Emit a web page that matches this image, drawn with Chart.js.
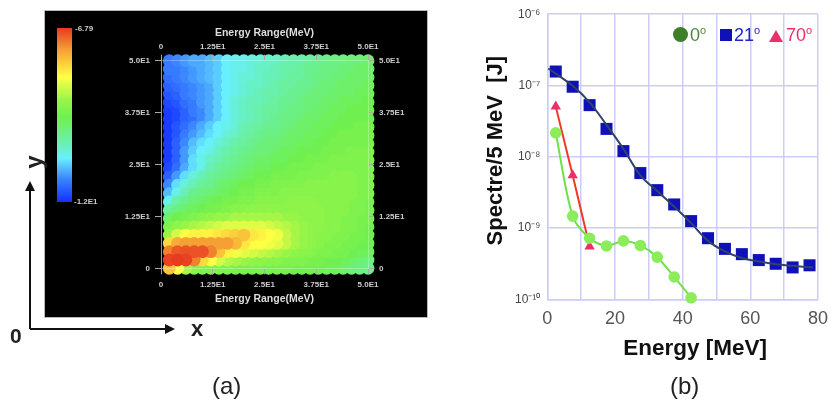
<!DOCTYPE html>
<html>
<head>
<meta charset="utf-8">
<title>Energy spectra</title>
<script src="https://cdn.jsdelivr.net/npm/chart.js@4"></script>
<style>
  html, body { margin: 0; padding: 0; background: #fff; }
  body { width: 837px; height: 401px; overflow: hidden; font-family: "Liberation Sans", sans-serif; }
  #page { position: absolute; left: 0; top: 0; width: 837px; height: 401px; overflow: hidden; filter: blur(0.4px); }
  #panelA { position: absolute; left: 45px; top: 11px; width: 382px; height: 306px; background: #000; outline: 1px solid #bbb; }
  #panelA canvas { filter: blur(0.5px); }
  #panelB { position: absolute; left: 480px; top: 0; width: 357px; height: 362px; }
  .txt { position: absolute; white-space: nowrap; line-height: 1; }
  .cb { color: #ccc; font-size: 8px; font-weight: bold; }
  .big { color: #222; font-size: 24px; }
  .leg { font-size: 18px; }
  .leg sup { font-size: 11px; vertical-align: 7px; line-height: 0; }
  #colorbar { position: absolute; left: 57px; top: 28px; width: 15px; height: 174px; }
  #mark0 { position: absolute; left: 673px; top: 27px; width: 15px; height: 15px; border-radius: 50%; background: #3f7f2c; }
  #mark21 { position: absolute; left: 720px; top: 29px; width: 12px; height: 12px; background: #1010b8; }
  #mark70 { position: absolute; left: 769px; top: 30px; width: 0; height: 0; border-left: 7px solid transparent; border-right: 7px solid transparent; border-bottom: 12px solid #ea2f6c; }
</style>
</head>
<body>
<div id="page">
  <div id="panelA"><canvas id="heatChart"></canvas></div>
  <div id="colorbar"></div>
  <div class="txt cb" style="left:75px;top:25px">-6.79</div>
  <div class="txt cb" style="left:74px;top:198px">-1.2E1</div>

  <svg style="position:absolute;left:0;top:0" width="837" height="401">
    <path d="M30 329V187M30 329H168" stroke="#111" stroke-width="2" fill="none"/>
    <path d="M30 181L25 191H35ZM175 329L165 324V334Z" fill="#111"/>
  </svg>
  <div class="txt big" style="left:10px;top:325px;font-size:21px;font-weight:bold">0</div>
  <div class="txt big" style="left:191px;top:318px;font-size:22px;font-weight:bold">x</div>
  <div class="txt big" style="left:27px;top:150px;font-weight:bold;transform:rotate(-90deg)">y</div>
  <div class="txt big" style="left:212px;top:374px">(a)</div>

  <div id="panelB"><canvas id="spectraChart"></canvas></div>
  <div id="mark0"></div>
  <div class="txt leg" style="left:690px;top:26px;color:#4c8a3a">0<sup>o</sup></div>
  <div id="mark21"></div>
  <div class="txt leg" style="left:734px;top:26px;color:#2222cc">21<sup>o</sup></div>
  <div id="mark70"></div>
  <div class="txt leg" style="left:786px;top:26px;color:#ea2f6c">70<sup>o</sup></div>
  <div class="txt big" style="left:670px;top:374px">(b)</div>
</div>

<script>
// panel (a): values, log10 scale
const binX = [2, 4, 6, 8, 10, 12, 14, 16, 18, 20, 22, 24, 26, 28, 30, 32, 34, 36, 38, 40, 42, 44, 46, 48, 50];
const binY = [50, 48, 46, 44, 42, 40, 38, 36, 34, 32, 30, 28, 26, 24, 22, 20, 18, 16, 14, 12, 10, 8, 6, 4, 2, 0];
const heatRows = [
  [-11.4,-11.3,-11.2,-11.1,-11.1,-11.0,-10.9,-10.7,-10.6,-10.6,-10.5,-10.5,-10.4,-10.4,-10.3,-10.2,-10.2,-10.1,-10.0,-10.0,-9.9,-9.9,-9.8,-9.8,-9.7],
  [-11.4,-11.4,-11.3,-11.2,-11.1,-11.0,-10.9,-10.7,-10.6,-10.6,-10.5,-10.4,-10.4,-10.3,-10.2,-10.2,-10.1,-10.0,-10.0,-9.9,-9.9,-9.8,-9.8,-9.7,-9.7],
  [-11.5,-11.4,-11.3,-11.2,-11.1,-11.0,-10.9,-10.7,-10.6,-10.5,-10.5,-10.4,-10.3,-10.3,-10.2,-10.1,-10.1,-10.0,-9.9,-9.9,-9.8,-9.8,-9.7,-9.7,-9.7],
  [-11.6,-11.5,-11.4,-11.3,-11.2,-11.1,-10.9,-10.7,-10.6,-10.5,-10.4,-10.4,-10.3,-10.2,-10.1,-10.1,-10.0,-10.0,-9.9,-9.8,-9.8,-9.7,-9.7,-9.7,-9.6],
  [-11.7,-11.6,-11.4,-11.3,-11.2,-11.1,-10.9,-10.7,-10.6,-10.5,-10.4,-10.3,-10.2,-10.2,-10.1,-10.0,-10.0,-9.9,-9.8,-9.8,-9.7,-9.7,-9.7,-9.6,-9.6],
  [-11.8,-11.7,-11.5,-11.4,-11.2,-11.1,-10.9,-10.7,-10.5,-10.4,-10.3,-10.3,-10.2,-10.1,-10.0,-10.0,-9.9,-9.8,-9.8,-9.7,-9.7,-9.6,-9.6,-9.6,-9.5],
  [-11.9,-11.8,-11.6,-11.4,-11.3,-11.1,-10.9,-10.7,-10.5,-10.4,-10.3,-10.2,-10.1,-10.1,-10.0,-9.9,-9.9,-9.8,-9.7,-9.7,-9.6,-9.6,-9.5,-9.5,-9.5],
  [-11.9,-11.8,-11.6,-11.5,-11.3,-11.1,-10.9,-10.7,-10.5,-10.4,-10.3,-10.2,-10.1,-10.0,-9.9,-9.9,-9.8,-9.7,-9.7,-9.6,-9.6,-9.5,-9.5,-9.5,-9.5],
  [-11.9,-11.7,-11.5,-11.3,-11.1,-10.9,-10.7,-10.6,-10.5,-10.3,-10.2,-10.1,-10.0,-10.0,-9.9,-9.8,-9.7,-9.7,-9.6,-9.6,-9.5,-9.5,-9.5,-9.4,-9.4],
  [-11.9,-11.7,-11.4,-11.2,-11.0,-10.8,-10.7,-10.5,-10.4,-10.2,-10.1,-10.0,-9.9,-9.9,-9.8,-9.7,-9.7,-9.6,-9.6,-9.5,-9.5,-9.4,-9.4,-9.4,-9.4],
  [-11.9,-11.6,-11.3,-11.0,-10.8,-10.7,-10.5,-10.4,-10.2,-10.1,-10.0,-9.9,-9.8,-9.8,-9.7,-9.7,-9.6,-9.6,-9.5,-9.5,-9.4,-9.4,-9.4,-9.4,-9.4],
  [-11.9,-11.6,-11.2,-10.9,-10.7,-10.6,-10.4,-10.2,-10.1,-10.0,-9.9,-9.8,-9.8,-9.7,-9.6,-9.6,-9.5,-9.5,-9.5,-9.4,-9.4,-9.4,-9.3,-9.3,-9.3],
  [-11.9,-11.6,-11.2,-10.8,-10.6,-10.4,-10.3,-10.1,-10.0,-9.9,-9.8,-9.7,-9.7,-9.6,-9.6,-9.5,-9.5,-9.4,-9.4,-9.4,-9.3,-9.3,-9.3,-9.3,-9.3],
  [-11.8,-11.5,-11.1,-10.8,-10.6,-10.3,-10.1,-10.0,-9.9,-9.8,-9.7,-9.6,-9.6,-9.5,-9.5,-9.4,-9.4,-9.4,-9.3,-9.3,-9.3,-9.3,-9.3,-9.3,-9.3],
  [-11.6,-11.2,-10.8,-10.5,-10.3,-10.1,-10.0,-9.9,-9.8,-9.7,-9.6,-9.5,-9.5,-9.4,-9.4,-9.4,-9.3,-9.3,-9.3,-9.3,-9.2,-9.2,-9.2,-9.3,-9.3],
  [-11.3,-10.8,-10.5,-10.3,-10.1,-10.0,-9.8,-9.7,-9.6,-9.5,-9.5,-9.4,-9.4,-9.3,-9.3,-9.3,-9.3,-9.2,-9.2,-9.2,-9.2,-9.2,-9.2,-9.3,-9.3],
  [-11.0,-10.6,-10.3,-10.0,-9.9,-9.8,-9.7,-9.6,-9.5,-9.4,-9.4,-9.3,-9.3,-9.3,-9.2,-9.2,-9.2,-9.2,-9.2,-9.2,-9.2,-9.2,-9.2,-9.3,-9.3],
  [-10.6,-10.2,-10.0,-9.8,-9.7,-9.6,-9.5,-9.4,-9.4,-9.3,-9.3,-9.2,-9.2,-9.2,-9.2,-9.1,-9.1,-9.1,-9.2,-9.2,-9.2,-9.2,-9.3,-9.3,-9.4],
  [-10.1,-9.9,-9.7,-9.6,-9.5,-9.4,-9.4,-9.3,-9.2,-9.2,-9.1,-9.1,-9.1,-9.1,-9.1,-9.1,-9.1,-9.1,-9.1,-9.2,-9.2,-9.2,-9.3,-9.3,-9.4],
  [-9.7,-9.5,-9.4,-9.3,-9.2,-9.1,-9.0,-9.0,-8.9,-8.9,-8.9,-8.9,-8.9,-8.9,-9.0,-9.0,-9.1,-9.1,-9.1,-9.2,-9.2,-9.3,-9.3,-9.4,-9.4],
  [-9.3,-9.1,-9.0,-8.9,-8.8,-8.7,-8.6,-8.5,-8.5,-8.5,-8.5,-8.5,-8.6,-8.7,-8.8,-8.9,-9.0,-9.1,-9.1,-9.2,-9.2,-9.3,-9.3,-9.4,-9.5],
  [-9.0,-8.6,-8.3,-8.2,-8.2,-8.2,-8.1,-8.0,-7.9,-7.8,-8.1,-8.2,-8.3,-8.4,-8.7,-8.9,-9.0,-9.1,-9.2,-9.2,-9.3,-9.3,-9.4,-9.4,-9.5],
  [-8.0,-7.6,-7.5,-7.5,-7.5,-7.5,-7.5,-7.5,-7.7,-8.1,-8.3,-8.3,-8.4,-8.5,-8.7,-8.9,-9.0,-9.1,-9.2,-9.3,-9.3,-9.4,-9.4,-9.5,-9.5],
  [-7.3,-7.05,-7.0,-7.0,-7.0,-7.3,-7.8,-8.2,-8.4,-8.5,-8.6,-8.7,-8.8,-8.9,-9.0,-9.1,-9.2,-9.2,-9.3,-9.3,-9.4,-9.4,-9.5,-9.6,-9.6],
  [-6.9,-6.85,-6.9,-7.3,-8.0,-8.3,-8.6,-8.8,-8.9,-9.0,-9.1,-9.1,-9.2,-9.2,-9.3,-9.3,-9.3,-9.4,-9.4,-9.5,-9.5,-9.6,-9.7,-9.8,-9.9],
  [-7.8,-8.3,-8.9,-9.2,-9.3,-9.3,-9.3,-9.3,-9.4,-9.4,-9.4,-9.4,-9.4,-9.4,-9.4,-9.5,-9.5,-9.5,-9.5,-9.6,-9.6,-9.7,-9.8,-9.9,-10.0],
];
const rangeTicks = [0, 12.5, 25, 37.5, 50];
const rangeLabels = ["0", "1.25E1", "2.5E1", "3.75E1", "5.0E1"];

// panel (b): spectra
const energy0 = [2.5, 7.5, 12.5, 17.5, 22.5, 27.5, 32.5, 37.5, 42.5];
const spectre0 = [2.16e-8, 1.47e-9, 7.2e-10, 5.6e-10, 6.6e-10, 5.7e-10, 3.9e-10, 2.06e-10, 1.05e-10];
const energy21 = [2.5, 7.5, 12.5, 17.5, 22.5, 27.5, 32.5, 37.5, 42.5, 47.5, 52.5, 57.5, 62.5, 67.5, 72.5, 77.5];
const spectre21 = [1.57e-7, 9.6e-8, 5.3e-8, 2.46e-8, 1.2e-8, 5.9e-9, 3.4e-9, 2.14e-9, 1.25e-9, 7.2e-10, 5.1e-10, 4.3e-10, 3.55e-10, 3.15e-10, 2.8e-10, 3.0e-10];
const energyFit = [0.3, 7.5, 12.5, 17.5, 22.5, 27.5, 32.5, 37.5, 42.5, 47.5, 52.5, 57.5, 62.5, 67.5, 72.5, 78.5];
const spectreFit = [1.73e-7, 9.9e-8, 5.8e-8, 2.8e-8, 1.29e-8, 5.5e-9, 3.3e-9, 2.0e-9, 1.17e-9, 6.6e-10, 4.7e-10, 3.8e-10, 3.4e-10, 3.1e-10, 2.95e-10, 2.8e-10];
const energy70 = [2.5, 7.5, 12.5];
const spectre70 = [5.05e-8, 5.5e-9, 5.5e-10];
const decadeTicks = [1e-10, 1e-9, 1e-8, 1e-7, 1e-6];
const decadeLabels = ["10⁻¹⁰", "10⁻⁹", "10⁻⁸", "10⁻⁷", "10⁻⁶"];

// colour scale of the map
const colorStops = [
  [-12, [20, 48, 255]],
  [-11.3, [60, 135, 255]],
  [-10.7, [104, 240, 255]],
  [-10.35, [104, 240, 190]],
  [-9.5, [112, 240, 80]],
  [-9.0, [150, 245, 72]],
  [-8.3, [255, 255, 68]],
  [-7.5, [245, 160, 52]],
  [-6.85, [232, 58, 32]],
];

function heatColor(v) {
  for (let i = 1; i < colorStops.length; i++) {
    if (v <= colorStops[i][0]) {
      const a = colorStops[i - 1];
      const b = colorStops[i];
      const t = Math.max(0, (v - a[0]) / (b[0] - a[0]));
      const c = a[1].map((n, k) => Math.round(n + (b[1][k] - n) * t));
      return "rgb(" + c.join(",") + ")";
    }
  }
  return "rgb(232,58,32)";
}

// low values first so the hot cells stay round on top
const heatCells = [];
heatRows.forEach((row, r) => {
  row.forEach((v, c) => {
    heatCells.push({ x: binX[c], y: binY[r], v: v });
  });
});
heatCells.sort((a, b) => a.v - b.v);

document.getElementById("colorbar").style.background =
  "linear-gradient(to top," + colorStops.map((s) => {
    const pct = ((s[0] + 12) / 5.15) * 100;
    return "rgb(" + s[1].join(",") + ") " + pct + "%";
  }).join(",") + ")";

Chart.defaults.animation = false;
Chart.defaults.responsive = true;
Chart.defaults.maintainAspectRatio = false;
Chart.defaults.font.family = '"Liberation Sans", sans-serif';

function rangeAxis(position, size, lineColor, tickPad, titlePad) {
  const vertical = position === "left" || position === "right";
  return {
    type: "linear",
    position: position,
    min: 0,
    max: 50,
    afterBuildTicks: (scale) => {
      scale.ticks = rangeTicks.map((v) => ({ value: v }));
    },
    afterFit: (scale) => {
      if (vertical) scale.width = size;
      else scale.height = size;
    },
    grid: {
      z: 1,
      drawOnChartArea: false,
      tickLength: 6,
      tickColor: "#aaa",
      color: "#aaa",
    },
    border: { display: true, color: lineColor, z: 1 },
    ticks: {
      autoSkip: false,
      maxRotation: 0,
      padding: tickPad,
      color: "#ccc",
      font: { size: 8, weight: "bold" },
      callback: (v) => rangeLabels[rangeTicks.indexOf(v)],
    },
    title: {
      display: !vertical,
      text: "Energy Range(MeV)",
      color: "#ddd",
      font: { size: 10.5, weight: "bold" },
      padding: titlePad,
    },
  };
}

new Chart(document.getElementById("heatChart"), {
  type: "scatter",
  data: {
    datasets: [
      {
        data: heatCells.map((cell) => ({ x: cell.x, y: cell.y })),
        backgroundColor: heatCells.map((cell) => heatColor(cell.v)),
        pointBorderWidth: 0,
        pointRadius: 6.4,
        clip: false,
      },
    ],
  },
  options: {
    plugins: { legend: { display: false }, tooltip: { enabled: false } },
    layout: { padding: 0 },
    scales: {
      x: rangeAxis("bottom", 48.7, "rgba(255,255,255,0.28)", 6, { top: 0, bottom: 12 }),
      xTop: rangeAxis("top", 49.7, "rgba(255,255,255,0.28)", 3, { top: 16, bottom: 0 }),
      y: rangeAxis("left", 116, "rgba(255,255,255,0.6)", 5),
      yRight: rangeAxis("right", 59, "rgba(255,255,255,0.28)", 5),
    },
  },
});

function xy(xs, ys) {
  return xs.map((x, i) => ({ x: x, y: ys[i] }));
}

new Chart(document.getElementById("spectraChart"), {
  type: "line",
  data: {
    datasets: [
      {
        label: "0",
        data: xy(energy0, spectre0),
        borderColor: "#6fe04a",
        borderWidth: 2,
        pointStyle: "circle",
        pointRadius: 5.8,
        pointBackgroundColor: "#8cec5c",
        pointBorderWidth: 0,
        tension: 0.3,
        clip: false,
        order: 2,
      },
      {
        label: "70",
        data: xy(energy70, spectre70),
        borderColor: "#ee3a24",
        borderWidth: 2,
        pointStyle: "triangle",
        pointRadius: 6,
        pointBackgroundColor: "#ea2f6c",
        pointBorderWidth: 0,
        tension: 0,
        clip: false,
        order: 3,
      },
      {
        label: "fit",
        data: xy(energyFit, spectreFit),
        borderColor: "#2f4468",
        borderWidth: 2,
        pointRadius: 0,
        tension: 0.35,
        clip: false,
        order: 1,
      },
      {
        label: "21",
        data: xy(energy21, spectre21),
        showLine: false,
        pointStyle: "rect",
        pointRadius: 8.5,
        pointBackgroundColor: "#1010b8",
        pointBorderWidth: 0,
        clip: false,
        order: 4,
      },
    ],
  },
  options: {
    plugins: { legend: { display: false }, tooltip: { enabled: false } },
    layout: { padding: { top: 12.7, right: 0 } },
    scales: {
      x: {
        type: "linear",
        min: 0,
        max: 80,
        afterFit: (scale) => { scale.height = 62.7; },
        grid: { color: "#cccdf6", lineWidth: 1.5, drawTicks: false },
        border: { color: "#cccdf6", width: 1.5 },
        ticks: {
          stepSize: 10,
          autoSkip: false,
          maxRotation: 0,
          padding: 9,
          color: "#555",
          font: { size: 18 },
          callback: (v) => (v % 20 === 0 ? String(v) : ""),
        },
        title: {
          display: true,
          text: "    Energy [MeV]",
          color: "#111",
          font: { size: 22.5, weight: "bold" },
          padding: { top: 0, bottom: 0 },
        },
      },
      y: {
        type: "logarithmic",
        min: 1e-10,
        max: 1e-6,
        afterBuildTicks: (scale) => {
          scale.ticks = decadeTicks.map((v) => ({ value: v }));
        },
        afterFit: (scale) => { scale.width = 67.3; },
        grid: { color: "#cccdf6", lineWidth: 1.5, drawTicks: false },
        border: { color: "#cccdf6", width: 1.5 },
        ticks: {
          autoSkip: false,
          padding: 7,
          color: "#444",
          font: { size: 12 },
          callback: (v) => decadeLabels[decadeTicks.indexOf(v)],
        },
        title: {
          display: true,
          text: "  Spectre/5 MeV  [J]",
          color: "#111",
          font: { size: 22, weight: "bold" },
          padding: { top: 3, bottom: 0 },
        },
      },
    },
  },
});
</script>
</body>
</html>
